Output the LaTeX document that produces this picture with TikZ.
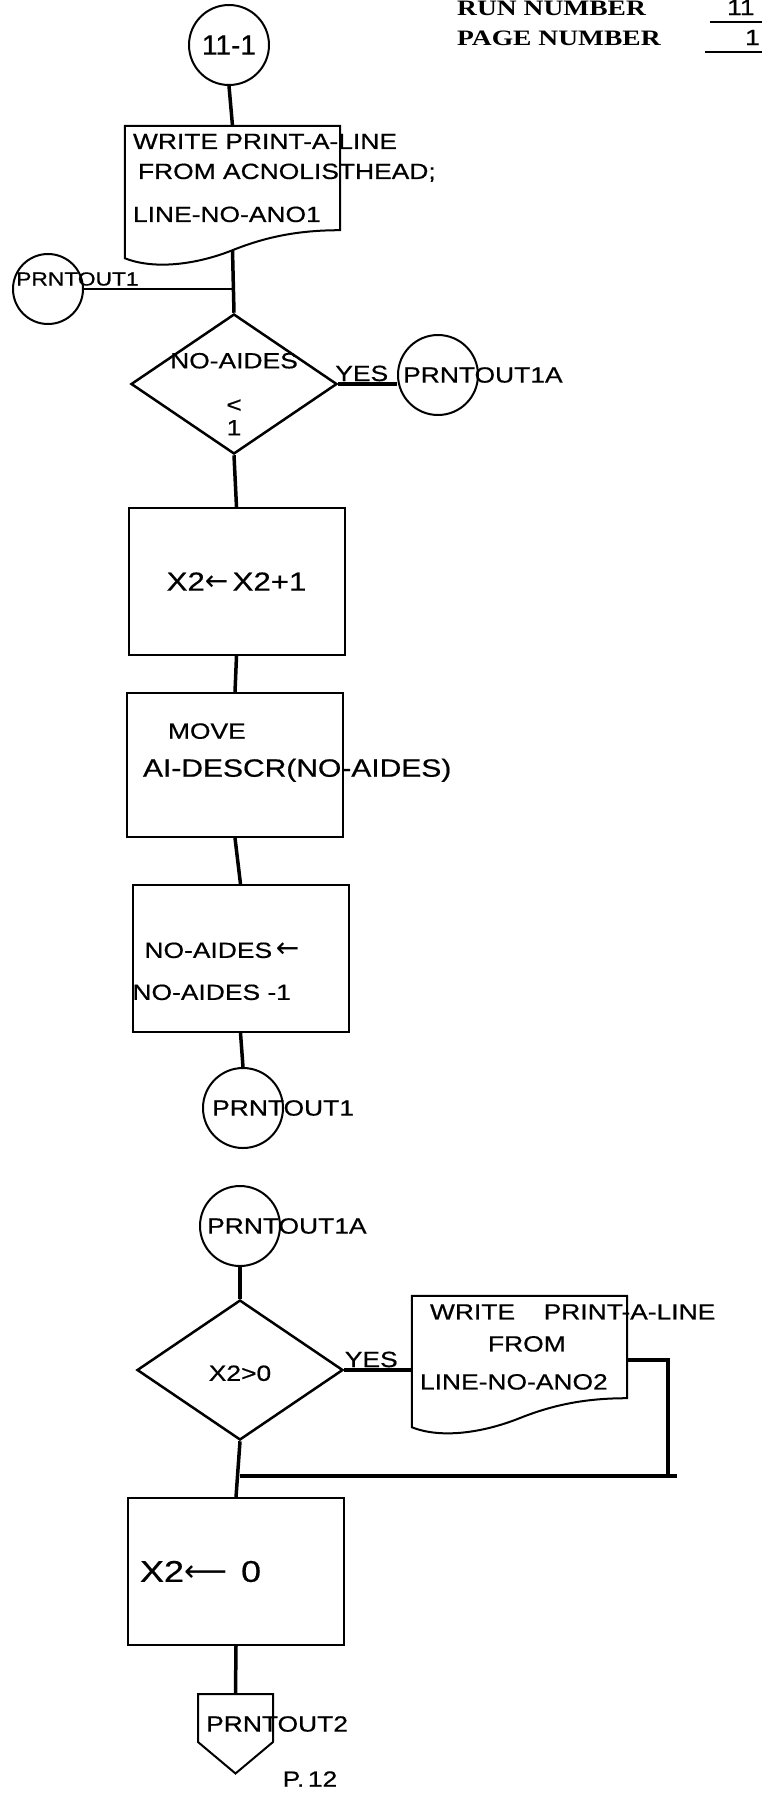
\documentclass[tikz,border=0pt]{standalone}
\usepackage{fontspec}
\newfontfamily\handfont[FakeStretch=1.2,FakeBold=0.6]{Liberation Sans}
\newfontfamily\numfont[FakeBold=0.6]{Liberation Sans}
\newfontfamily\arrowfont{DejaVu Sans}
\newfontfamily\typefont[FakeStretch=1.25]{Liberation Serif}
\usetikzlibrary{shapes.geometric,shapes.symbols}
\exhyphenpenalty=10000
% centred text that does not widen its node
\newcommand{\midtext}[2][0pt]{\raisebox{#1}[0pt][0pt]{\makebox[0pt]{\begin{tabular}{@{}c@{}}#2\end{tabular}}}}
\newcommand{\assignarrow}{{\arrowfont\fontsize{28}{30}\selectfont ←}}
\newcommand{\longassign}{{\arrowfont\fontsize{30}{30}\selectfont ⟵}}

\begin{document}
\begin{tikzpicture}[
  x=1pt,y=-1pt,
  every node/.style={font=\handfont\fontsize{22}{30}\selectfont},
  shapeline/.style={draw,line width=2pt},
  flow/.style={line width=3.5pt},
  sideflow/.style={line width=2pt},
  termcirc/.style={shapeline,circle,minimum size=80pt,inner sep=0pt},
  procbox/.style={shapeline,rectangle,minimum width=216pt,minimum height=147pt,
    text width=196pt,inner xsep=10pt,align=left},
  docbox/.style={rectangle,minimum width=215pt,minimum height=104pt,
    text width=199pt,inner xsep=8pt,align=left},
  decision/.style={shapeline,line width=2.5pt,diamond,minimum width=206pt,
    minimum height=140pt,inner sep=0pt},
  offpage/.style={shapeline,signal,signal to=south,signal from=nowhere,
    signal pointer angle=100,minimum width=75pt,minimum height=48pt,inner sep=0pt},
  tag/.style={inner sep=1pt},
  bigtext/.style={font=\handfont\fontsize{26}{30}\selectfont},
  headtext/.style={font=\typefont\bfseries\fontsize{22}{26}\selectfont,
    inner sep=0pt,anchor=base west},
]
  \useasboundingbox (0,0) rectangle (762,1799);

  % Header
  \node[headtext] (runlbl) at (457,15) {RUN NUMBER};
  \node[headtext] (pagelbl) at (457,45) {PAGE NUMBER};
  \node[tag,anchor=base west] (runno) at (726,15) {11};
  \node[tag,anchor=base west] (pageno) at (744,45) {1};
  \draw[line width=2pt] (710,22) -- (762,22);
  \draw[line width=2pt] (705,52) -- (762,52);

  % Entry and first write
  \node[termcirc,font=\numfont\fontsize{28}{30}\selectfont] (c111) at (229,45) {11-1};
  \node[docbox] (doc1) at (232.5,178) {%
    \mbox{WRITE PRINT-A-LINE}\\
    \hspace*{5pt}\mbox{FROM ACNOLISTHEAD;}\\[13pt]
    LINE-NO-ANO1};
  \draw[shapeline] (doc1.north west) -- (doc1.north east) -- (doc1.south east)
    .. controls +(-40,0) and +(35,-14) .. ([yshift=-20pt]doc1.south) coordinate (d1out)
    .. controls +(-35,14) and +(30,12) .. ([yshift=-28pt]doc1.south west) -- cycle;

  \node[termcirc,minimum size=70pt,
    label={[tag,anchor=west,xshift=3pt,yshift=10pt,font=\handfont\fontsize{19}{22}\selectfont]west:PRNTOUT1}]
    (po1a) at (48,289) {};

  % First test
  \node[decision] (dia1) at (234,384) {\midtext[-17pt]{NO-AIDES\\[14pt]<\\[-7pt]1}};
  \node[termcirc,label={[tag,anchor=west,xshift=5pt]west:PRNTOUT1A}] (po1b) at (438,375) {};

  % Processing boxes
  \node[procbox,bigtext,align=center] (box1) at (236.5,581.5) {X2\assignarrow\,X2+1};
  \node[procbox,minimum height=144pt] (box2) at (235,765) {%
    \hspace*{31pt}MOVE\\[8pt]
    \hspace*{6pt}\mbox{\fontsize{25}{30}\selectfont AI-DESCR(NO-AIDES)}\\\mbox{}};
  \node[procbox] (box3) at (240.5,958.5) {%
    \mbox{}\\[11pt]
    \hspace*{2pt}NO-AIDES\,\assignarrow\\[12pt]
    \hspace*{-10pt}NO-AIDES -1};
  \node[termcirc,label={[tag,anchor=west,xshift=9pt]west:PRNTOUT1}] (po1c) at (243,1108) {};

  % Second entry
  \node[termcirc,label={[tag,anchor=west,xshift=7pt]west:PRNTOUT1A}] (po1d) at (240,1226) {};
  \node[decision] (dia2) at (240,1370) {\midtext[-10pt]{X2>0}};
  \node[docbox,minimum height=102pt] (doc2) at (519.5,1347) {%
    \hspace*{10pt}\mbox{WRITE\hspace{1.3em}PRINT-A-LINE}\\[2pt]
    \hspace*{68pt}FROM\\[8pt]
    LINE-NO-ANO2};
  \draw[shapeline] (doc2.north west) -- (doc2.north east) -- (doc2.south east)
    .. controls +(-40,0) and +(35,-14) .. ([yshift=-20pt]doc2.south)
    .. controls +(-35,14) and +(30,12) .. ([yshift=-29pt]doc2.south west) -- cycle;
  \coordinate (back) at (668,1476);

  \node[procbox,font=\handfont\fontsize{30}{30}\selectfont] (box4) at (236,1571.5)
    {\hspace*{2pt}X2\longassign\hspace{14pt}0};
  \node[offpage,label={[tag,anchor=west,xshift=8pt,yshift=-6pt]west:PRNTOUT2}] (opc) at (235.5,1718) {};
  \node[tag] (pref) at (310,1779) {P.\,12};

  % Connectors
  \draw[flow] (c111.south) -- (doc1.north);
  \draw[flow] (d1out) -- (dia1.north);
  \draw[sideflow] (po1a.east) -- (po1a.east -| dia1.north);
  \draw[flow] (dia1.east) -- node[tag,above,pos=0.4] (yes1) {YES} (dia1.east -| po1b.west);
  \draw[flow] (dia1.south) -- (box1.north);
  \draw[flow] (box1.south) -- (box2.north);
  \draw[flow] (box2.south) -- (box3.north);
  \draw[flow] (box3.south) -- (po1c.north);

  \draw[flow] (po1d.south) -- (dia2.north);
  \draw[flow] (dia2.east) -- node[tag,above,pos=0.4] (yes2) {YES} (dia2.east -| doc2.west);
  \draw[flow] ([yshift=-13pt]doc2.east) -| (back);
  \draw[flow] (back -| dia2.south) -- ([xshift=9pt]back);
  \draw[flow] (dia2.south) -- (box4.north);
  \draw[flow] (box4.south) -- (opc.north);
\end{tikzpicture}
\end{document}
